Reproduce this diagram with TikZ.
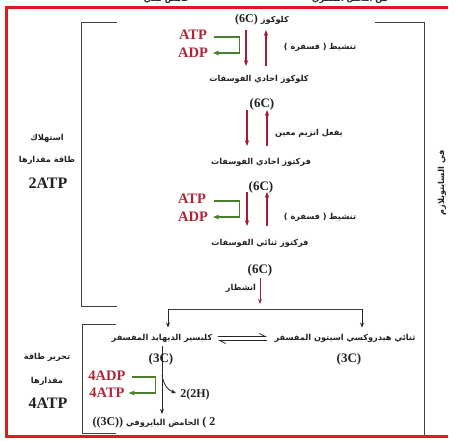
\documentclass[tikz,border=0pt]{standalone}
\usepackage{fontspec}
\setmainfont{Liberation Serif}
\newfontfamily\arabicfont[Script=Arabic]{DejaVu Sans}
\TeXXeTstate=1
\usetikzlibrary{arrows.meta}
\definecolor{framered}{HTML}{DE1A1F}
\definecolor{darkred}{HTML}{B02638}
\definecolor{arrowred}{HTML}{A21E38}
\definecolor{grn}{HTML}{4A7D2C}
\definecolor{txt}{HTML}{222222}
\newcommand\AR[1]{{\arabicfont\bfseries\fontsize{8.2}{10}\selectfont\beginR #1\endR}}
\begin{document}
\begin{tikzpicture}[x=1pt,y=-1pt,
  ar/.style={text=txt, inner sep=0pt},
  lat/.style={font=\bfseries\fontsize{13}{14}\selectfont, text=txt, inner sep=0pt},
  atp/.style={font=\bfseries\fontsize{14.5}{15}\selectfont, text=darkred, inner sep=0pt},
  big/.style={font=\bfseries\fontsize{16}{17}\selectfont, text=txt, inner sep=0pt},
  redarr/.style={draw=arrowred, line width=1.1pt, -{Stealth[length=6pt,width=4.5pt]}},
  grnarr/.style={draw=grn, line width=1.3pt, -{Stealth[length=6pt,width=5pt]}},
  blkarr/.style={draw=black!85, line width=0.8pt, -{Stealth[length=5pt,width=4pt]}},
  blk/.style={draw=black!75, line width=0.9pt},
]
\useasboundingbox (0,0) rectangle (464,440);
\fill[white] (0,0) rectangle (464,440);

% partial texts at the very top (cut off in the reference)
\node[ar] (topa) at (167,-1) {\AR{حامض لبني}};
\node[ar] (topb) at (350,-1) {\AR{من التحلل السكري}};

% red frame
\draw[framered, line width=3pt] (448,7.5) -- (6.5,7.5) -- (6.5,436) -- (448,436);

% black brackets
\draw[blk] (117,22) -- (81,22) -- (81,306) -- (117,306);
\draw[blk] (375,22) -- (424,22) -- (424,434.5);
\draw[blk] (116,324) -- (82,324) -- (82,433) -- (116,433);

% main chain
\node[lat,font=\bfseries\fontsize{12}{13}\selectfont] (glc) at (262,20) {(6C) \AR{كلوكوز}};
\node[atp] (atp1) at (193,35) {ATP};
\node[atp] (adp1) at (193,53) {ADP};
\node[ar] (act1) at (320,47) {\AR{( فسفرة )} \AR{تنشيط}};
\node[ar] (g6p) at (259,79) {\AR{كلوكوز احادي الفوسفات}};
\node[lat] (c6b) at (262,104) {(6C)};
\node[ar] (enz) at (309,133) {\AR{بفعل انزيم معين}};
\node[ar] (f6p) at (261,162) {\AR{فركتوز احادي الفوسفات}};
\node[lat] (c6c) at (261,187) {(6C)};
\node[atp] (atp2) at (192,199) {ATP};
\node[atp] (adp2) at (193,217) {ADP};
\node[ar] (act2) at (320,217) {\AR{( فسفرة )} \AR{تنشيط}};
\node[ar] (f16) at (260,243) {\AR{فركتوز ثنائي الفوسفات}};
\node[lat] (c6d) at (260,270) {(6C)};
\node[ar] (split) at (241,288) {\AR{انشطار}};

% left labels, upper
\node[ar] (cons1) at (47,138) {\AR{استهلاك}};
\node[ar] (cons2) at (47,160) {\AR{طاقة مقدارها}};
\node[big] (cons3) at (48,183) {2ATP};

% lower part
\node[ar] (g3p) at (162,338) {\AR{كليسير الديهايد المفسفر}};
\node[ar] (dhap) at (345,338) {\AR{ثنائي هيدروكسي اسيتون المفسفر}};
\node[lat] (c3a) at (161,359) {(3C)};
\node[lat] (c3b) at (349,359) {(3C)};
\node[atp] (adp4) at (107,376) {4ADP};
\node[atp] (atp4) at (107,393) {4ATP};
\node[lat,font=\bfseries\fontsize{12}{13}\selectfont] (h2) at (195,395) {2(2H)};
\node[ar] (pyr) at (154,423) {\bfseries\fontsize{12}{13}\selectfont((3C)) \AR{الحامض البايروفي} ( 2};
\node[ar] (rel1) at (47,357) {\AR{تحرير طاقة}};
\node[ar] (rel2) at (47,381) {\AR{مقدارها}};
\node[big] (rel3) at (48,403) {4ATP};

% right vertical label
\node[ar, rotate=90] (cyto) at (442,183) {\AR{في السايتوبلازم}};

% red arrows
\coordinate (d1a) at (246,30); \coordinate (d1b) at (246,66);
\coordinate (u1a) at (266,66); \coordinate (u1b) at (266,30);
\draw[redarr] (d1a) -- (d1b);
\draw[redarr] (u1a) -- (u1b);
\coordinate (d2a) at (247,110); \coordinate (d2b) at (247,146);
\coordinate (u2a) at (267,146); \coordinate (u2b) at (267,110);
\draw[redarr] (d2a) -- (d2b);
\draw[redarr] (u2a) -- (u2b);
\coordinate (d3a) at (247,192); \coordinate (d3b) at (247,226);
\coordinate (u3a) at (267,226); \coordinate (u3b) at (267,192);
\draw[redarr] (d3a) -- (d3b);
\draw[redarr] (u3a) -- (u3b);
\coordinate (d4a) at (260,278); \coordinate (d4b) at (260,304);
\draw[redarr, line width=0.8pt, -{Stealth[length=5pt,width=3.5pt]}] (d4a) -- (d4b);

% green ATP/ADP arrows
\draw[grnarr] (atp1.east) ++(7,2) -- ++(25,0) |- ([xshift=5pt]adp1.east);
\draw[grnarr] (atp2.east) ++(8,2) -- ++(25,0) |- ([xshift=5pt]adp2.east);
\draw[grnarr] (adp4.east) ++(6,1) -- ++(24,0) |- ([xshift=4pt]atp4.east);

% fork
\coordinate (fl) at (168,309); \coordinate (fr) at (362,309);
\draw[blk] (fl) -- (fr);
\draw[blkarr] (fl) -- (168,327.5);
\draw[blkarr] (fr) -- (362,327.5);

% equilibrium harpoons
\draw[draw=black!85, line width=0.8pt, -{Straight Barb[harpoon,length=6pt,width=6pt]}] (218,336.5) -- (267,336.5);
\draw[draw=black!85, line width=0.8pt, -{Straight Barb[harpoon,length=6pt,width=6pt]}] (267,340.5) -- (218,340.5);

% glyceraldehyde -> pyruvate
\coordinate (vtop) at (162,346); \coordinate (vbot) at (162,414);
\draw[blkarr] (vtop) -- (vbot);
\coordinate (cv) at (162,375);
\draw[blkarr] (cv) .. controls (164,386) and (168,390) .. (176,393);
\end{tikzpicture}
\end{document}
